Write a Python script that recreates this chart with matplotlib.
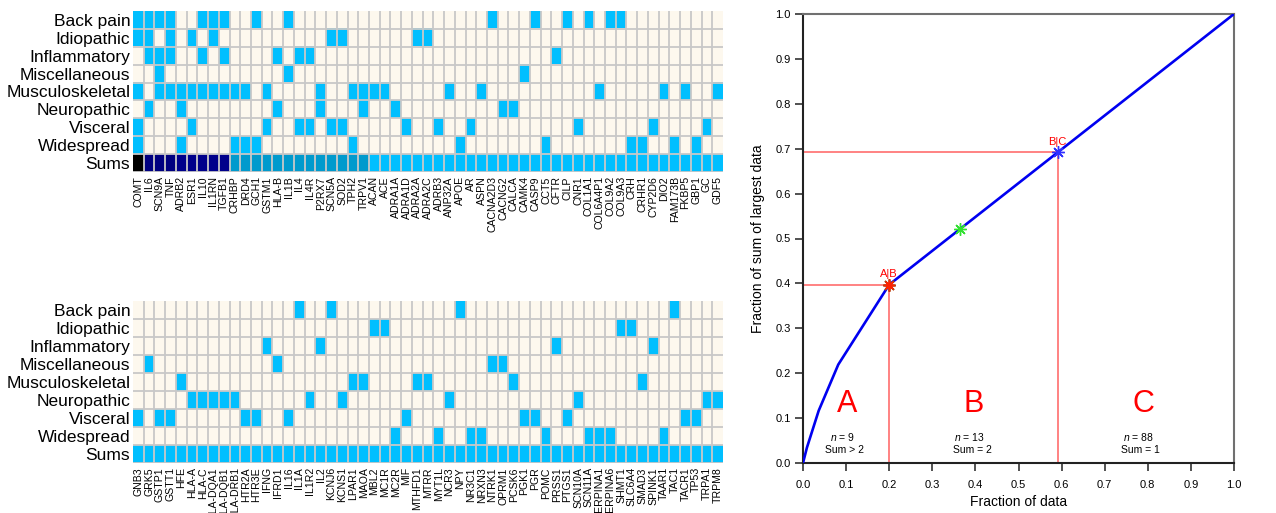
import numpy as np
import matplotlib
matplotlib.use("Agg")
import matplotlib.pyplot as plt
from matplotlib.colors import to_rgb

plt.rcParams['font.family'] = ['Liberation Sans', 'DejaVu Sans']
plt.rcParams['mathtext.fontset'] = 'custom'
plt.rcParams['mathtext.it'] = 'Liberation Sans:italic'
plt.rcParams['mathtext.rm'] = 'Liberation Sans'

# ---------------- data ----------------
categories = ["Back pain", "Idiopathic", "Inflammatory", "Miscellaneous",
              "Musculoskeletal", "Neuropathic", "Visceral", "Widespread"]

top_genes = ["COMT", "IL6", "SCN9A", "TNF", "ADRB2", "ESR1", "IL10", "IL1RN", "TGFB1",
             "CRHBP", "DRD4", "GCH1", "GSTM1", "HLA-B", "IL1B", "IL4", "IL4R", "P2RX7",
             "SCN5A", "SOD2", "TPH2", "TRPV1", "ACAN", "ACE", "ADRA1A", "ADRA1D", "ADRA2A",
             "ADRA2C", "ADRB3", "ANP32A", "APOE", "AR", "ASPN", "CACNA2D3", "CACNG2", "CALCA",
             "CAMK4", "CASP9", "CCT5", "CFTR", "CILP", "CNR1", "COL1A1", "COL6A4P1", "COL9A2",
             "COL9A3", "CRH", "CRHR1", "CYP2D6", "DIO2", "FAM173B", "FKBP5", "GBP1", "GC", "GDF5"]

bottom_genes = ["GNB3", "GRK5", "GSTP1", "GSTT1", "HFE", "HLA-A", "HLA-C", "HLA-DQA1", "HLA-DQB1",
                "HLA-DRB1", "HTR2A", "HTR3E", "IFNG", "IFRD1", "IL16", "IL1A", "IL1R2", "IL2",
                "KCNJ6", "KCNS1", "LPAR1", "MAOA", "MBL2", "MC1R", "MC2R", "MIF", "MTHFD1", "MTRR",
                "MYT1L", "NCR3", "NPY", "NR3C1", "NRXN3", "NTRK1", "OPRM1", "PCSK6", "PGK1", "PGR",
                "POMC", "PRSS1", "PTGS1", "SCN10A", "SCN11A", "SERPINA1", "SERPINA6", "SHMT1",
                "SLC6A4", "SMAD3", "SPINK1", "TAAR1", "TAC1", "TACR1", "TP53", "TRPA1", "TRPM8"]

back_pain = ["COMT", "IL6", "SCN9A", "TNF", "IL10", "IL1RN", "TGFB1", "GCH1", "IL1B", "CACNA2D3",
             "CASP9", "CILP", "COL1A1", "COL9A2", "COL9A3", "IL1A", "KCNJ6", "NPY", "TAC1"]
idiopathic = ["COMT", "IL6", "TNF", "ESR1", "IL1RN", "SCN5A", "SOD2", "ADRA2A", "ADRA2C",
              "MBL2", "MC1R", "SHMT1", "SLC6A4"]
inflammatory = ["IL6", "SCN9A", "TNF", "IL10", "TGFB1", "HLA-B", "IL4", "IL4R", "CFTR",
                "IFNG", "IL2", "PRSS1", "SPINK1"]
miscellaneous = ["SCN9A", "IL1B", "CAMK4", "GRK5", "IFRD1", "NTRK1", "OPRM1"]
musculoskeletal = ["COMT", "SCN9A", "TNF", "ADRB2", "ESR1", "IL10", "IL1RN", "TGFB1", "CRHBP",
                   "DRD4", "GSTM1", "P2RX7", "TPH2", "TRPV1", "ACAN", "ACE", "ANP32A", "ASPN",
                   "COL6A4P1", "DIO2", "FKBP5", "GDF5", "HFE", "LPAR1", "MAOA", "MTHFD1", "MTRR",
                   "PCSK6", "SMAD3"]
neuropathic = ["IL6", "ADRB2", "HLA-B", "P2RX7", "TRPV1", "ADRA1A", "CACNG2", "CALCA", "HLA-A",
               "HLA-C", "HLA-DQA1", "HLA-DQB1", "HLA-DRB1", "IL1R2", "KCNS1", "NCR3", "SCN10A",
               "TRPA1", "TRPM8"]
visceral = ["COMT", "ESR1", "GSTM1", "IL4", "IL4R", "SCN5A", "SOD2", "ADRA1D", "ADRB3", "AR",
            "CNR1", "CYP2D6", "GC", "GNB3", "GSTP1", "GSTT1", "HTR2A", "HTR3E", "IL16", "MIF",
            "PGK1", "PGR", "PTGS1", "TACR1", "TP53"]
widespread = ["COMT", "ADRB2", "CRHBP", "DRD4", "GCH1", "TPH2", "APOE", "CCT5", "CRH", "CRHR1",
              "FAM173B", "GBP1", "MC2R", "MYT1L", "NR3C1", "NRXN3", "POMC", "SCN11A", "SERPINA1",
              "SERPINA6", "TAAR1"]

category_members = [back_pain, idiopathic, inflammatory, miscellaneous,
                    musculoskeletal, neuropathic, visceral, widespread]

# ABC analysis boundaries (item index along sorted data) and annotations
ab_index = 22
bc_index = 65
mid_index = 40
class_n = [9, 13, 88]
class_rule = ["Sum > 2", "Sum = 2", "Sum = 1"]

# ---------------- style ----------------
cream = '#FDF8EE'
blue = '#00BFFF'
sum_colors = [cream, blue, '#009ACD', '#00008B', '#000080', '#000000']
grid_col = '#C8C8C8'

W, H = 1276, 513
fig = plt.figure(figsize=(W / 100, H / 100), dpi=100)
ax1 = fig.add_axes([133 / W, 1 - 172 / H, 590 / W, 161 / H])
ax2 = fig.add_axes([133 / W, 1 - 463 / H, 590 / W, 162 / H])
ax3 = fig.add_axes([803 / W, 1 - 463 / H, 431 / W, 449 / H])

palette = np.array([to_rgb(c) for c in sum_colors])


def draw_heat(ax, genes):
    n = len(genes)
    nr = len(categories) + 1
    M = np.zeros((nr, n), dtype=int)
    for i, members in enumerate(category_members):
        for j, g in enumerate(genes):
            M[i, j] = 1 if g in members else 0
    M[-1, :] = M[:-1, :].sum(axis=0)
    ax.imshow(palette[M], aspect='auto', interpolation='nearest',
              extent=(0, n, nr, 0))
    ax.vlines(np.arange(1, n), 0, nr, colors=grid_col, lw=1.3)
    ax.hlines(np.arange(1, nr + 1), 0, n, colors=grid_col, lw=1.3)
    ax.set_xlim(0, n)
    ax.set_ylim(nr, 0)
    ax.set_yticks(np.arange(nr) + 0.5, categories + ["Sums"], fontsize=12.5)
    ax.set_xticks(np.arange(n) + 0.5, genes, rotation=90, fontsize=7.6)
    ax.tick_params(length=0, pad=2)
    ax.tick_params(axis='x', pad=3)
    for s in ax.spines.values():
        s.set_visible(False)


draw_heat(ax1, top_genes)
draw_heat(ax2, bottom_genes)

# ---------------- ABC curve ----------------
all_genes = top_genes + bottom_genes
sums = np.array([sum(g in m for m in category_members) for g in all_genes], dtype=float)
sorted_sums = np.sort(sums)[::-1]
n_all = len(sorted_sums)
x = np.concatenate([[0], np.arange(1, n_all + 1) / n_all])
y = np.concatenate([[0], np.cumsum(sorted_sums) / sorted_sums.sum()])

ax3.plot(x, y, color='#0000F0', lw=1.9, zorder=3)

xab, yab = x[ab_index], y[ab_index]
xbc, ybc = x[bc_index], y[bc_index]
xm, ym = x[mid_index], y[mid_index]

lc = '#FF6060'
ax3.plot([0, xab], [yab, yab], color=lc, lw=1.1, zorder=2)
ax3.plot([xab, xab], [0, yab], color=lc, lw=1.1, zorder=2)
ax3.plot([0, xbc], [ybc, ybc], color=lc, lw=1.1, zorder=2)
ax3.plot([xbc, xbc], [0, ybc], color=lc, lw=1.1, zorder=2)

ax3.plot([xab], [yab], marker=(8, 2, 0), ms=9, mew=1.3, color='#B84010', zorder=4)
ax3.plot([xab], [yab], marker=(8, 2, 0), ms=7, mew=1.0, color='#FF2000', zorder=5)
ax3.plot([xbc], [ybc], marker=(8, 2, 0), ms=9, mew=1.0, color='#3030FF', zorder=4)
ax3.plot([xm], [ym], marker=(8, 2, 0), ms=9, mew=1.0, color='#30E030', zorder=4)

ax3.text(xab, yab + 0.012, "A|B", color='red', fontsize=8, ha='center', va='bottom')
ax3.text(xbc, ybc + 0.012, "B|C", color='red', fontsize=8, ha='center', va='bottom')

big_x = [0.102, 0.397, 0.789]
for lab, bx, nn, rule in zip(["A", "B", "C"], big_x, class_n, class_rule):
    ax3.text(bx, 0.132, lab, color='red', fontsize=22, ha='center', va='center')
    ax3.text(bx - 0.01, 0.058, r"$n$ = %d" % nn, fontsize=7.5, ha='center', va='center')
    ax3.text(bx - 0.005, 0.028, rule, fontsize=7.5, ha='center', va='center')

ax3.set_xlim(0, 1)
ax3.set_ylim(0, 1)
ticks = np.round(np.arange(0, 1.01, 0.1), 1)
ax3.set_xticks(ticks, ["%.1f" % t for t in ticks])
ax3.set_yticks(ticks, ["%.1f" % t for t in ticks])
ax3.tick_params(direction='out', length=6, width=1.2, labelsize=8, color='#333333', pad=3)
ax3.tick_params(axis='x', pad=6)
ax3.set_xlabel("Fraction of data", fontsize=10, labelpad=4)
ax3.set_ylabel("Fraction of sum of largest data", fontsize=10, labelpad=7)
for side in ['left', 'bottom']:
    ax3.spines[side].set_color('#222222')
    ax3.spines[side].set_linewidth(1.5)
for side in ['top', 'right']:
    ax3.spines[side].set_color('#707070')
    ax3.spines[side].set_linewidth(1.5)

fig.savefig("out.png", dpi=100)
